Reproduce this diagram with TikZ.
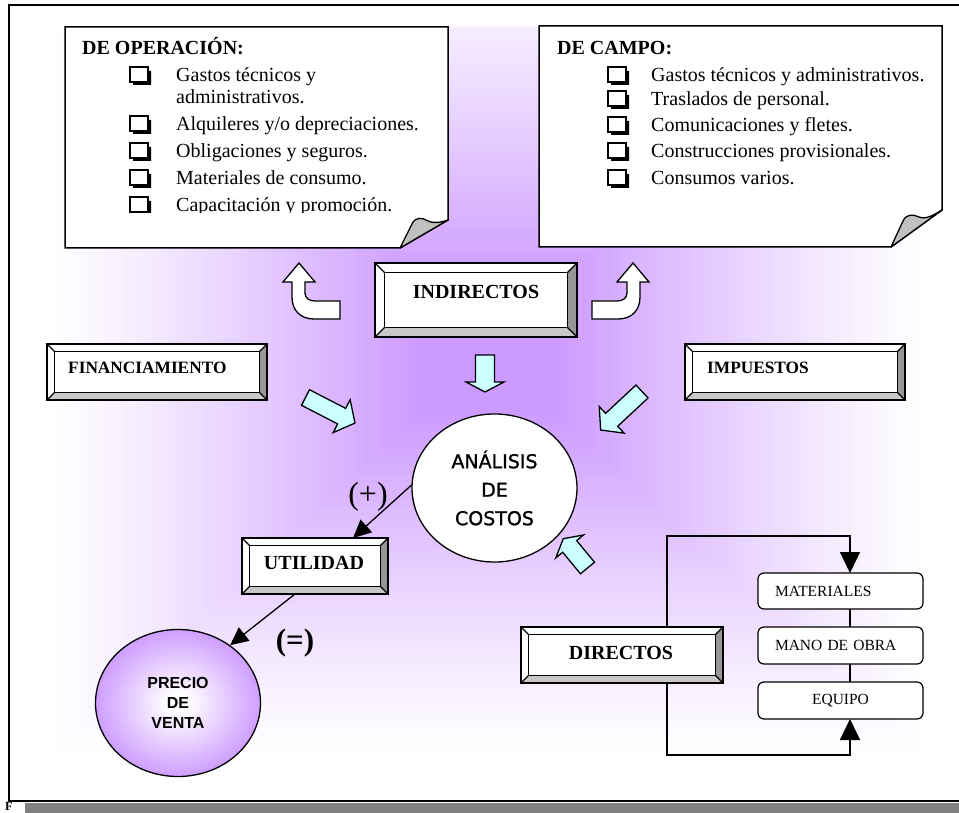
\documentclass[tikz,border=0pt]{standalone}
\usepackage{fontspec}
\setmainfont{Liberation Serif}
\newfontfamily\arialfont{Liberation Sans}
\newfontfamily\tahomafont[FakeBold=1.2]{DejaVu Sans}
\usetikzlibrary{arrows.meta,calc,shapes.geometric}

\definecolor{glowc}{HTML}{CC99FF}
\definecolor{cyanfill}{HTML}{CCFFFF}
\definecolor{bevright}{HTML}{969696}
\definecolor{bevbottom}{HTML}{C8C8C8}
\definecolor{foldgray}{HTML}{C0C0C0}
\definecolor{bandgray}{HTML}{808080}

% lilac glow inside the price ellipse
\pgfdeclareradialshading{pvglow}{\pgfpoint{0bp}{0bp}}{color(0bp)=(white); color(3bp)=(white); color(26bp)=(glowc); color(50bp)=(glowc)}

\newcommand\fs[2]{\fontsize{#1}{#2}\selectfont}

% bevel faces of a button-like box: #1 node name, #2 bevel width
\newcommand\bevelfaces[2]{%
  \fill[bevright] (#1.north east) -- (#1.south east) -- ([shift={(-#2,-#2)}]#1.south east) -- ([shift={(-#2,#2)}]#1.north east) -- cycle;
  \fill[bevbottom] (#1.south west) -- (#1.south east) -- ([shift={(-#2,-#2)}]#1.south east) -- ([shift={(#2,-#2)}]#1.south west) -- cycle;
  \draw[bevline] ([shift={(#2,#2)}]#1.north west) rectangle ([shift={(-#2,-#2)}]#1.south east);
  \draw[bevline] (#1.north west) -- ([shift={(#2,#2)}]#1.north west)
                 (#1.north east) -- ([shift={(-#2,#2)}]#1.north east)
                 (#1.south west) -- ([shift={(#2,-#2)}]#1.south west)
                 (#1.south east) -- ([shift={(-#2,-#2)}]#1.south east);
  \draw[bevline] (#1.north west) rectangle (#1.south east);
}

% shadowed check box: #1 left edge, #2 bottom edge
\newcommand\chkbox[2]{%
  \fill[black] ({#1+18},{#2-11}) -- ({#1+21},{#2-11}) -- ({#1+21},{#2+3}) -- ({#1+3},{#2+3}) -- ({#1+3},#2) -- ({#1+18},#2) -- cycle;
  \draw[line width=1.1pt, fill=white] (#1,{#2-15}) rectangle ({#1+18},#2);
}

% block arrow: tail centre (#1,#2), direction #3, length #4,
% half shaft #5, half head #6, head length #7
\newcommand\blockarrow[7]{%
  \begin{scope}[shift={(#1,#2)},rotate=#3]
    \draw[cyanarr] (0,-#5) -- ({#4-#7},-#5) -- ({#4-#7},-#6) -- (#4,0) -- ({#4-#7},#6) -- ({#4-#7},#5) -- (0,#5) -- cycle;
  \end{scope}}

\begin{document}
\begin{tikzpicture}[x=1pt,y=-1pt,
  callout/.style={draw=black, line width=1.5pt, fill=white, line join=miter},
  fold/.style={draw=black, line width=1.3pt, fill=foldgray, line join=round},
  cotitle/.style={font=\bfseries\fs{20}{22}, anchor=base west, inner sep=0pt},
  coitem/.style={font=\fs{20}{22}, anchor=base west, inner sep=0pt},
  bevnode/.style={rectangle, fill=white, outer sep=0pt, inner sep=0pt},
  bevline/.style={draw=black, line width=1.2pt},
  bevtxt/.style={font=\bfseries\fs{20}{22}, inner sep=0pt},
  bevtxtsm/.style={font=\bfseries\fs{17.3}{20}, inner sep=0pt},
  cyanarr/.style={draw=black, line width=1.3pt, fill=cyanfill, line join=miter},
  uturn/.style={draw=black, line width=1.3pt, fill=white, line join=miter},
  conn/.style={draw=black, line width=1.3pt},
  tipA/.style={-{Triangle[length=18pt,width=17pt]}},
  tipB/.style={-{Triangle[length=21pt,width=20pt]}},
  rbox/.style={draw=black, line width=1.2pt, fill=white, rounded corners=6pt,
    minimum width=165pt, inner xsep=17pt, inner ysep=0pt, text width=131pt,
    font=\fs{15.5}{18}, outer sep=0pt},
]
\useasboundingbox (0,0) rectangle (959,813);
\clip (0,0) rectangle (959,813);
\fill[white] (0,0) rectangle (959,813);

% soft lilac glow spreading from the middle of the sheet
\begin{scope}
  \clip (45,28) rectangle (932,762);
  \foreach \i in {0,...,48} {
    \pgfmathsetmacro\glt{1-\i/50}
    \pgfmathsetmacro\glp{100*pow(min(1,(1-\glt)/0.85),1.2)}
    \fill[glowc!\glp!white] ({488-444*\glt},{350-412*\glt}) rectangle ({488+444*\glt},{350+412*\glt});
  }
\end{scope}

% sheet frame and lower band
\draw[line width=2pt] (965,5) -- (9,5) -- (9,801) -- (965,801);
\fill[bandgray] (25,803) rectangle (965,820);
\node[font=\bfseries\fs{12.5}{14}, anchor=north west, inner sep=0pt] (fnote) at (5,802.5) {F};

% note sheet: operation costs
\draw[callout] (65,27) -- (448,27) -- (448,220) -- (400,248) -- (65,248) -- cycle;
\draw[fold] (448,220) -- (400,248) -- (412,224) .. controls (415,217) and (422,217) .. (428,221) .. controls (435,224) and (442,222) .. cycle;
\node[cotitle] (op-title) at (82,55) {DE OPERACIÓN:};
\begin{scope}
  \clip (65,27) rectangle (448,213);
  \chkbox{130}{82}  \node[coitem] (op1) at (176,82) {Gastos técnicos y};
                    \node[coitem] (op1b) at (176,104) {administrativos.};
  \chkbox{130}{131} \node[coitem] (op2) at (176,131) {Alquileres y/o depreciaciones.};
  \chkbox{130}{158} \node[coitem] (op3) at (176,158) {Obligaciones y seguros.};
  \chkbox{130}{185} \node[coitem] (op4) at (176,185) {Materiales de consumo.};
  \chkbox{130}{212} \node[coitem] (op5) at (176,212) {Capacitación y promoción.};
\end{scope}

% note sheet: field costs
\draw[callout] (539,26) -- (942,26) -- (942,210) -- (891,247) -- (539,247) -- cycle;
\draw[fold] (942,210) -- (891,247) -- (903,221) .. controls (906,214) and (913,214) .. (919,217) .. controls (927,220) and (935,214) .. cycle;
\node[cotitle] (ca-title) at (557,55) {DE CAMPO:};
\chkbox{608}{82}  \node[coitem] (ca1) at (651,82) {Gastos técnicos y administrativos.};
\chkbox{608}{106} \node[coitem] (ca2) at (651,106) {Traslados de personal.};
\chkbox{608}{132} \node[coitem] (ca3) at (651,132) {Comunicaciones y fletes.};
\chkbox{608}{158} \node[coitem] (ca4) at (651,158) {Construcciones provisionales.};
\chkbox{608}{185} \node[coitem] (ca5) at (651,185) {Consumos varios.};

% U-turn arrows from the indirect costs up to the two sheets
\draw[uturn] (299,263) -- (315,282) -- (305,282) -- (305,293) .. controls (305,298) and (309,301) .. (315,301) -- (340,301) -- (340,319) -- (314,319) .. controls (300,319) and (292,310) .. (292,297) -- (292,282) -- (283,282) -- cycle;
\begin{scope}[shift={(932,0)}, xscale=-1]
  \draw[uturn] (299,263) -- (315,282) -- (305,282) -- (305,293) .. controls (305,298) and (309,301) .. (315,301) -- (340,301) -- (340,319) -- (314,319) .. controls (300,319) and (292,310) .. (292,297) -- (292,282) -- (283,282) -- cycle;
\end{scope}

% bevelled boxes
\node[bevnode, minimum width=202pt, minimum height=74pt] (ind) at (476,300) {};
\bevelfaces{ind}{9.5}
\node[bevtxt] (ind-t) at (476,292) {INDIRECTOS};

\node[bevnode, minimum width=220pt, minimum height=56pt] (fin) at (157,372) {};
\bevelfaces{fin}{7.5}
\node[bevtxtsm, anchor=west] (fin-t) at (68,368) {FINANCIAMIENTO};

\node[bevnode, minimum width=220pt, minimum height=56pt] (imp) at (795,372) {};
\bevelfaces{imp}{7.5}
\node[bevtxtsm, anchor=west] (imp-t) at (707,368) {IMPUESTOS};

\node[bevnode, minimum width=146pt, minimum height=56pt] (util) at (315,566) {};
\bevelfaces{util}{7.5}
\node[bevtxt] (util-t) at (314,563) {UTILIDAD};

\node[bevnode, minimum width=202pt, minimum height=56pt] (dir) at (622,655) {};
\bevelfaces{dir}{7.5}
\node[bevtxt] (dir-t) at (621,653) {DIRECTOS};

% cyan block arrows pointing at the analysis
\blockarrow{485}{355}{-90}{37}{9.5}{19}{10}
\blockarrow{305.5}{397.5}{-27.3}{55.7}{8.75}{18.5}{15}
\blockarrow{642}{391.5}{-137}{56.5}{8.85}{18.2}{15}
\blockarrow{587.5}{568}{129.6}{38}{9.1}{18}{10}

% cost analysis and selling price
\node[ellipse, draw=black, line width=1.3pt, fill=white, minimum width=165pt, minimum height=148pt,
      inner sep=0pt, align=center, font=\tahomafont\fs{19}{28.5}] (ana) at (494.5,488) {ANÁLISIS\\DE\\COSTOS};
\node[ellipse, draw=black, line width=1.3pt, shade, shading=pvglow, minimum width=165pt, minimum height=147pt,
      inner sep=0pt, align=center, font=\arialfont\bfseries\fs{16}{20}] (pv) at (178,703) {PRECIO\\DE\\VENTA};

\draw[conn, tipA] (ana.178) -- ($(util.north)+(38,0)$);
\draw[conn, tipA] ($(util.south)+(-20,0)$) -- (pv.48);
\node[font=\fs{32}{34}, inner sep=0pt] (plus) at (368,497) {(+)};
\node[font=\bfseries\fs{31}{33}, inner sep=0pt] (equals) at (295,643) {(=)};

% direct costs breakdown
\coordinate (bus) at (850,0);
\node[rbox, minimum height=36pt, align=left] (mat) at (840.5,591) {MATERIALES};
\node[rbox, minimum height=37pt, align=left] (mano) at (840.5,645.5) {MANO DE OBRA};
\node[rbox, minimum height=37pt, align=center] (equ) at (840.5,700.5) {EQUIPO};
\draw[conn] (mat.south -| bus) -- (mano.north -| bus);
\draw[conn] (mano.south -| bus) -- (equ.north -| bus);
\draw[conn, tipB] ($(dir.north)+(45,0)$) |- ($(mat.north -| bus)+(0,-37)$) -- (mat.north -| bus);
\draw[conn, tipB] ($(dir.south)+(45,0)$) |- ($(equ.south -| bus)+(0,36)$) -- (equ.south -| bus);
\end{tikzpicture}
\end{document}
